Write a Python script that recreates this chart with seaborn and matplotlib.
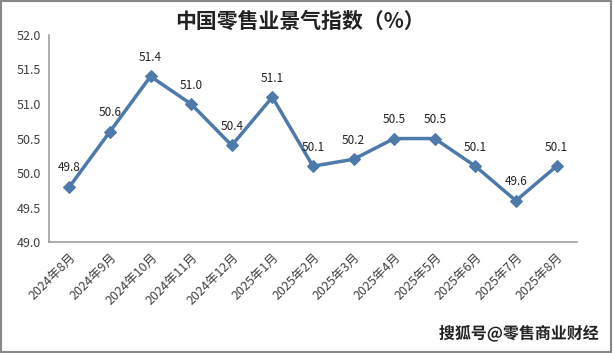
#!/usr/bin/env python3
import numpy as np
import pandas as pd
import seaborn as sns
from matplotlib import pyplot as plt
from matplotlib.patches import Rectangle
import matplotlib.patheffects as pe

months = ["2024年8月", "2024年9月", "2024年10月", "2024年11月", "2024年12月",
          "2025年1月", "2025年2月", "2025年3月", "2025年4月", "2025年5月",
          "2025年6月", "2025年7月", "2025年8月"]
index_values = [49.8, 50.6, 51.4, 51.0, 50.4, 51.1, 50.1, 50.2, 50.5, 50.5, 50.1, 49.6, 50.1]
y_ticks = [49.0, 49.5, 50.0, 50.5, 51.0, 51.5, 52.0]

LINE_COLOR = "#4e79ab"


def plot():
    df = pd.DataFrame({"month": months, "value": index_values})

    sns.set_style("white")
    plt.rcParams["font.family"] = ["Noto Sans CJK SC", "DejaVu Sans"]

    fig = plt.figure(figsize=(6.13, 3.53), dpi=100)
    ax = fig.add_axes([0.08, 0.314, 0.861, 0.587])
    sns.lineplot(x="month", y="value", data=df, sort=False, color=LINE_COLOR, linewidth=2.5,
                 marker="D", markersize=6, markeredgecolor=LINE_COLOR, ax=ax)

    for i, v in enumerate(index_values):
        ax.annotate(f"{v:.1f}", (i, v), xytext=(0, 9), textcoords="offset points",
                    ha="center", va="bottom", fontsize=8.5, color="#222222")

    ax.set_xlim(-0.5, len(months) - 0.5)
    ax.set_ylim(49.0, 52.0)
    ax.set_yticks(y_ticks, [f"{t:.1f}" for t in y_ticks])
    ax.set_xticks(range(len(months)), months, rotation=45, ha="right", rotation_mode="anchor")
    ax.set_xticks(np.arange(-0.5, len(months)), minor=True)
    ax.tick_params(axis="x", which="major", length=0, labelsize=9, colors="#404040", pad=6)
    ax.tick_params(axis="x", which="minor", length=4, color="#a0a0a0", direction="out")
    ax.tick_params(axis="y", length=4, color="#a0a0a0", labelsize=9, labelcolor="#404040", pad=2)
    ax.set_xlabel("")
    ax.set_ylabel("")
    for side in ["top", "right"]:
        ax.spines[side].set_visible(False)
    for side in ["left", "bottom"]:
        ax.spines[side].set_color("#a0a0a0")
        ax.spines[side].set_linewidth(1.2)

    fig.text(0.49, 0.94, "中国零售业景气指数（%）", ha="center", va="center",
             fontsize=15, fontweight="bold", color="#222222")
    wm = fig.text(0.977, 0.055, "搜狐号@零售商业财经", ha="right", va="center",
                  fontsize=11.5, fontweight="bold", color="#222222")
    wm.set_path_effects([pe.withStroke(linewidth=2, foreground="white")])

    fig.patches.append(Rectangle((0.002, 0.003), 0.995, 0.994, transform=fig.transFigure,
                                 fill=False, edgecolor="#888888", linewidth=1.5))

    fig.savefig("out.png", dpi=100)
    plt.close(fig)


def main():
    plot()


if __name__ == '__main__':
    main()
